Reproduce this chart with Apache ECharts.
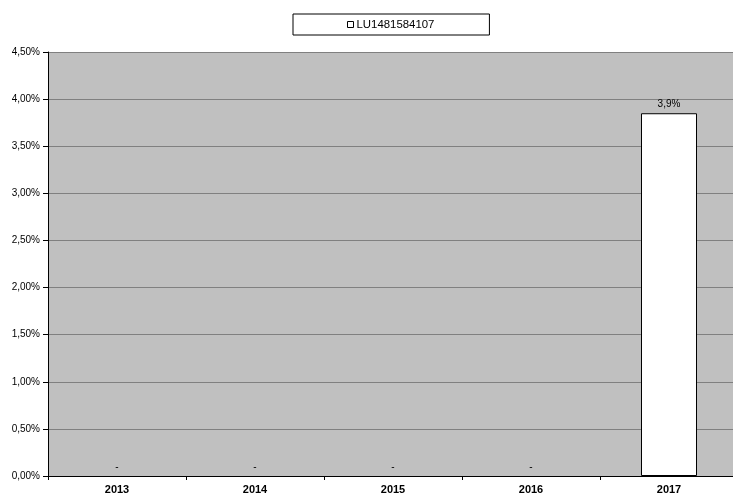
<!DOCTYPE html>
<html>
<head>
	<meta charset="utf-8" />
	<title>LU1481584107</title>
	<script src="https://cdn.jsdelivr.net/npm/echarts@6/dist/echarts.min.js"></script>
	<style>
		html, body { margin: 0; padding: 0; background: #fff; overflow: hidden; }
		#chart { width: 740px; height: 495px; }
	</style>
</head>
<body>
	<div id="chart"></div>
	<script type="text/javascript">
		// 数据
		var years = ['2013', '2014', '2015', '2016', '2017'];
		var seriesName = 'LU1481584107';
		var values = [0, 0, 0, 0, 3.85]; // in %

		var myChart = echarts.init(document.getElementById('chart'), null, { renderer: 'canvas' });

		var font = 'Liberation Sans, Arial, sans-serif';

		// 零值柱子不画边框
		var barData = values.map(function (v) {
			return v === 0 ? { value: v, itemStyle: { borderWidth: 0 } } : v;
		});

		var option = {
			animation: false,
			textStyle: { fontFamily: font },
			legend: {
				top: 14,
				left: 293,
				data: [seriesName],
				icon: 'rect',
				itemWidth: 6,
				itemHeight: 6,
				itemGap: 2,
				padding: [5, 55, 5, 54],
				borderColor: '#000',
				borderWidth: 1,
				backgroundColor: '#fff',
				textStyle: { fontSize: 11.4, color: '#000', fontFamily: font, padding: [0, 0, 0, -2] },
				itemStyle: { color: '#fff', borderColor: '#000', borderWidth: 1 }
			},
			grid: {
				left: 48,
				top: 52,
				width: 690,
				height: 424,
				show: true,
				backgroundColor: '#c0c0c0',
				borderWidth: 0
			},
			xAxis: {
				type: 'category',
				data: years,
				axisLine: { lineStyle: { color: '#000', width: 1 } },
				axisTick: { show: true, alignWithLabel: false, length: 4, inside: false, lineStyle: { color: '#000' } },
				axisLabel: { fontSize: 11, fontWeight: 'bold', color: '#000', margin: 8, fontFamily: font },
				splitLine: { show: false }
			},
			yAxis: {
				type: 'value',
				min: 0,
				max: 4.5,
				interval: 0.5,
				axisLine: { show: true, lineStyle: { color: '#000', width: 1 } },
				axisTick: { show: true, length: 5, lineStyle: { color: '#000' } },
				axisLabel: {
					fontSize: 10,
					color: '#000',
					margin: 8,
					fontFamily: font,
					formatter: function (v) { return v.toFixed(2).replace('.', ',') + '%'; }
				},
				splitLine: { show: true, lineStyle: { color: '#808080', width: 1 } }
			},
			series: [
				{
					name: seriesName,
					type: 'bar',
					data: barData,
					barWidth: 56,
					itemStyle: { color: '#fff', borderColor: '#000', borderWidth: 1 },
					label: {
						show: true,
						position: 'top',
						distance: 4,
						fontSize: 10,
						color: '#000',
						fontFamily: font,
						formatter: function (p) {
							if (p.value === 0) return '-';
							return p.value.toFixed(1).replace('.', ',') + '%';
						}
					}
				}
			]
		};

		myChart.setOption(option);
		window.addEventListener('resize', myChart.resize);
	</script>
</body>
</html>
